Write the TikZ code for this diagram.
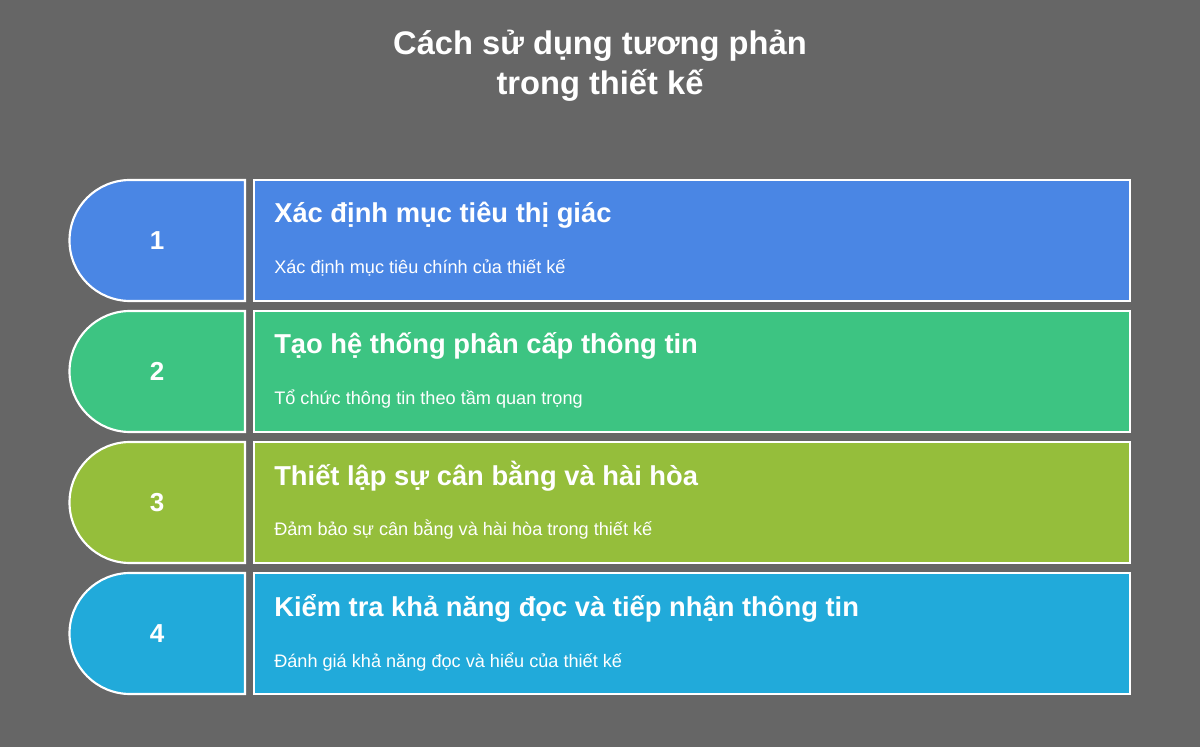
\documentclass[tikz,border=0pt]{standalone}
\usepackage{fontspec}
\setmainfont{Liberation Sans}
\definecolor{bgc}{HTML}{666666}
\definecolor{cA}{HTML}{4A86E4}
\definecolor{cB}{HTML}{3DC482}
\definecolor{cC}{HTML}{95BE3B}
\definecolor{cD}{HTML}{21AADA}
\tikzset{
  tabshape/.style={draw=white, line width=1.6pt},
  boxshape/.style={draw=white, line width=1.6pt},
  numtxt/.style={text=white, font=\bfseries\fontsize{19.5}{22}\selectfont, inner sep=0pt},
  headtxt/.style={text=white, font=\bfseries\fontsize{20.5}{24}\selectfont, anchor=base west, inner sep=0pt},
  subtxt/.style={text=white, font=\fontsize{13.6}{16}\selectfont, anchor=base west, inner sep=0pt},
  titletxt/.style={text=white, font=\bfseries\fontsize{24.5}{28}\selectfont, anchor=base, inner sep=0pt}
}
\begin{document}
\begin{tikzpicture}[x=0.75pt,y=0.75pt]
\fill[bgc] (0,0) rectangle (1200,747);
\useasboundingbox (0,0) rectangle (1200,747);
\node[titletxt] (t1) at (600,692) {Cách sử dụng tương phản};
\node[titletxt] (t2) at (600,652) {trong thiết kế};
\foreach \i/\top/\col/\head/\sub in {
  1/567/cA/{Xác định mục tiêu thị giác}/{Xác định mục tiêu chính của thiết kế},
  2/436/cB/{Tạo hệ thống phân cấp thông tin}/{Tổ chức thông tin theo tầm quan trọng},
  3/305/cC/{Thiết lập sự cân bằng và hài hòa}/{Đảm bảo sự cân bằng và hài hòa trong thiết kế},
  4/174/cD/{Kiểm tra khả năng đọc và tiếp nhận thông tin}/{Đánh giá khả năng đọc và hiểu của thiết kế}}{
  \pgfmathsetmacro{\bot}{\top-121}
  \pgfmathsetmacro{\mid}{\top-60.5}
  \path[tabshape, fill=\col] (245,\top) -- (130,\top) arc[start angle=90, end angle=270, radius=60.5] -- (245,\bot) -- cycle;
  \path[boxshape, fill=\col] (254,\top) rectangle (1130,\bot);
  \node[numtxt] (n\i) at (157,\mid) {\i};
  \node[headtxt] (h\i) at (274,\top-43) {\head};
  \node[subtxt] (s\i) at (274,\top-94) {\sub};
}
\end{tikzpicture}
\end{document}
